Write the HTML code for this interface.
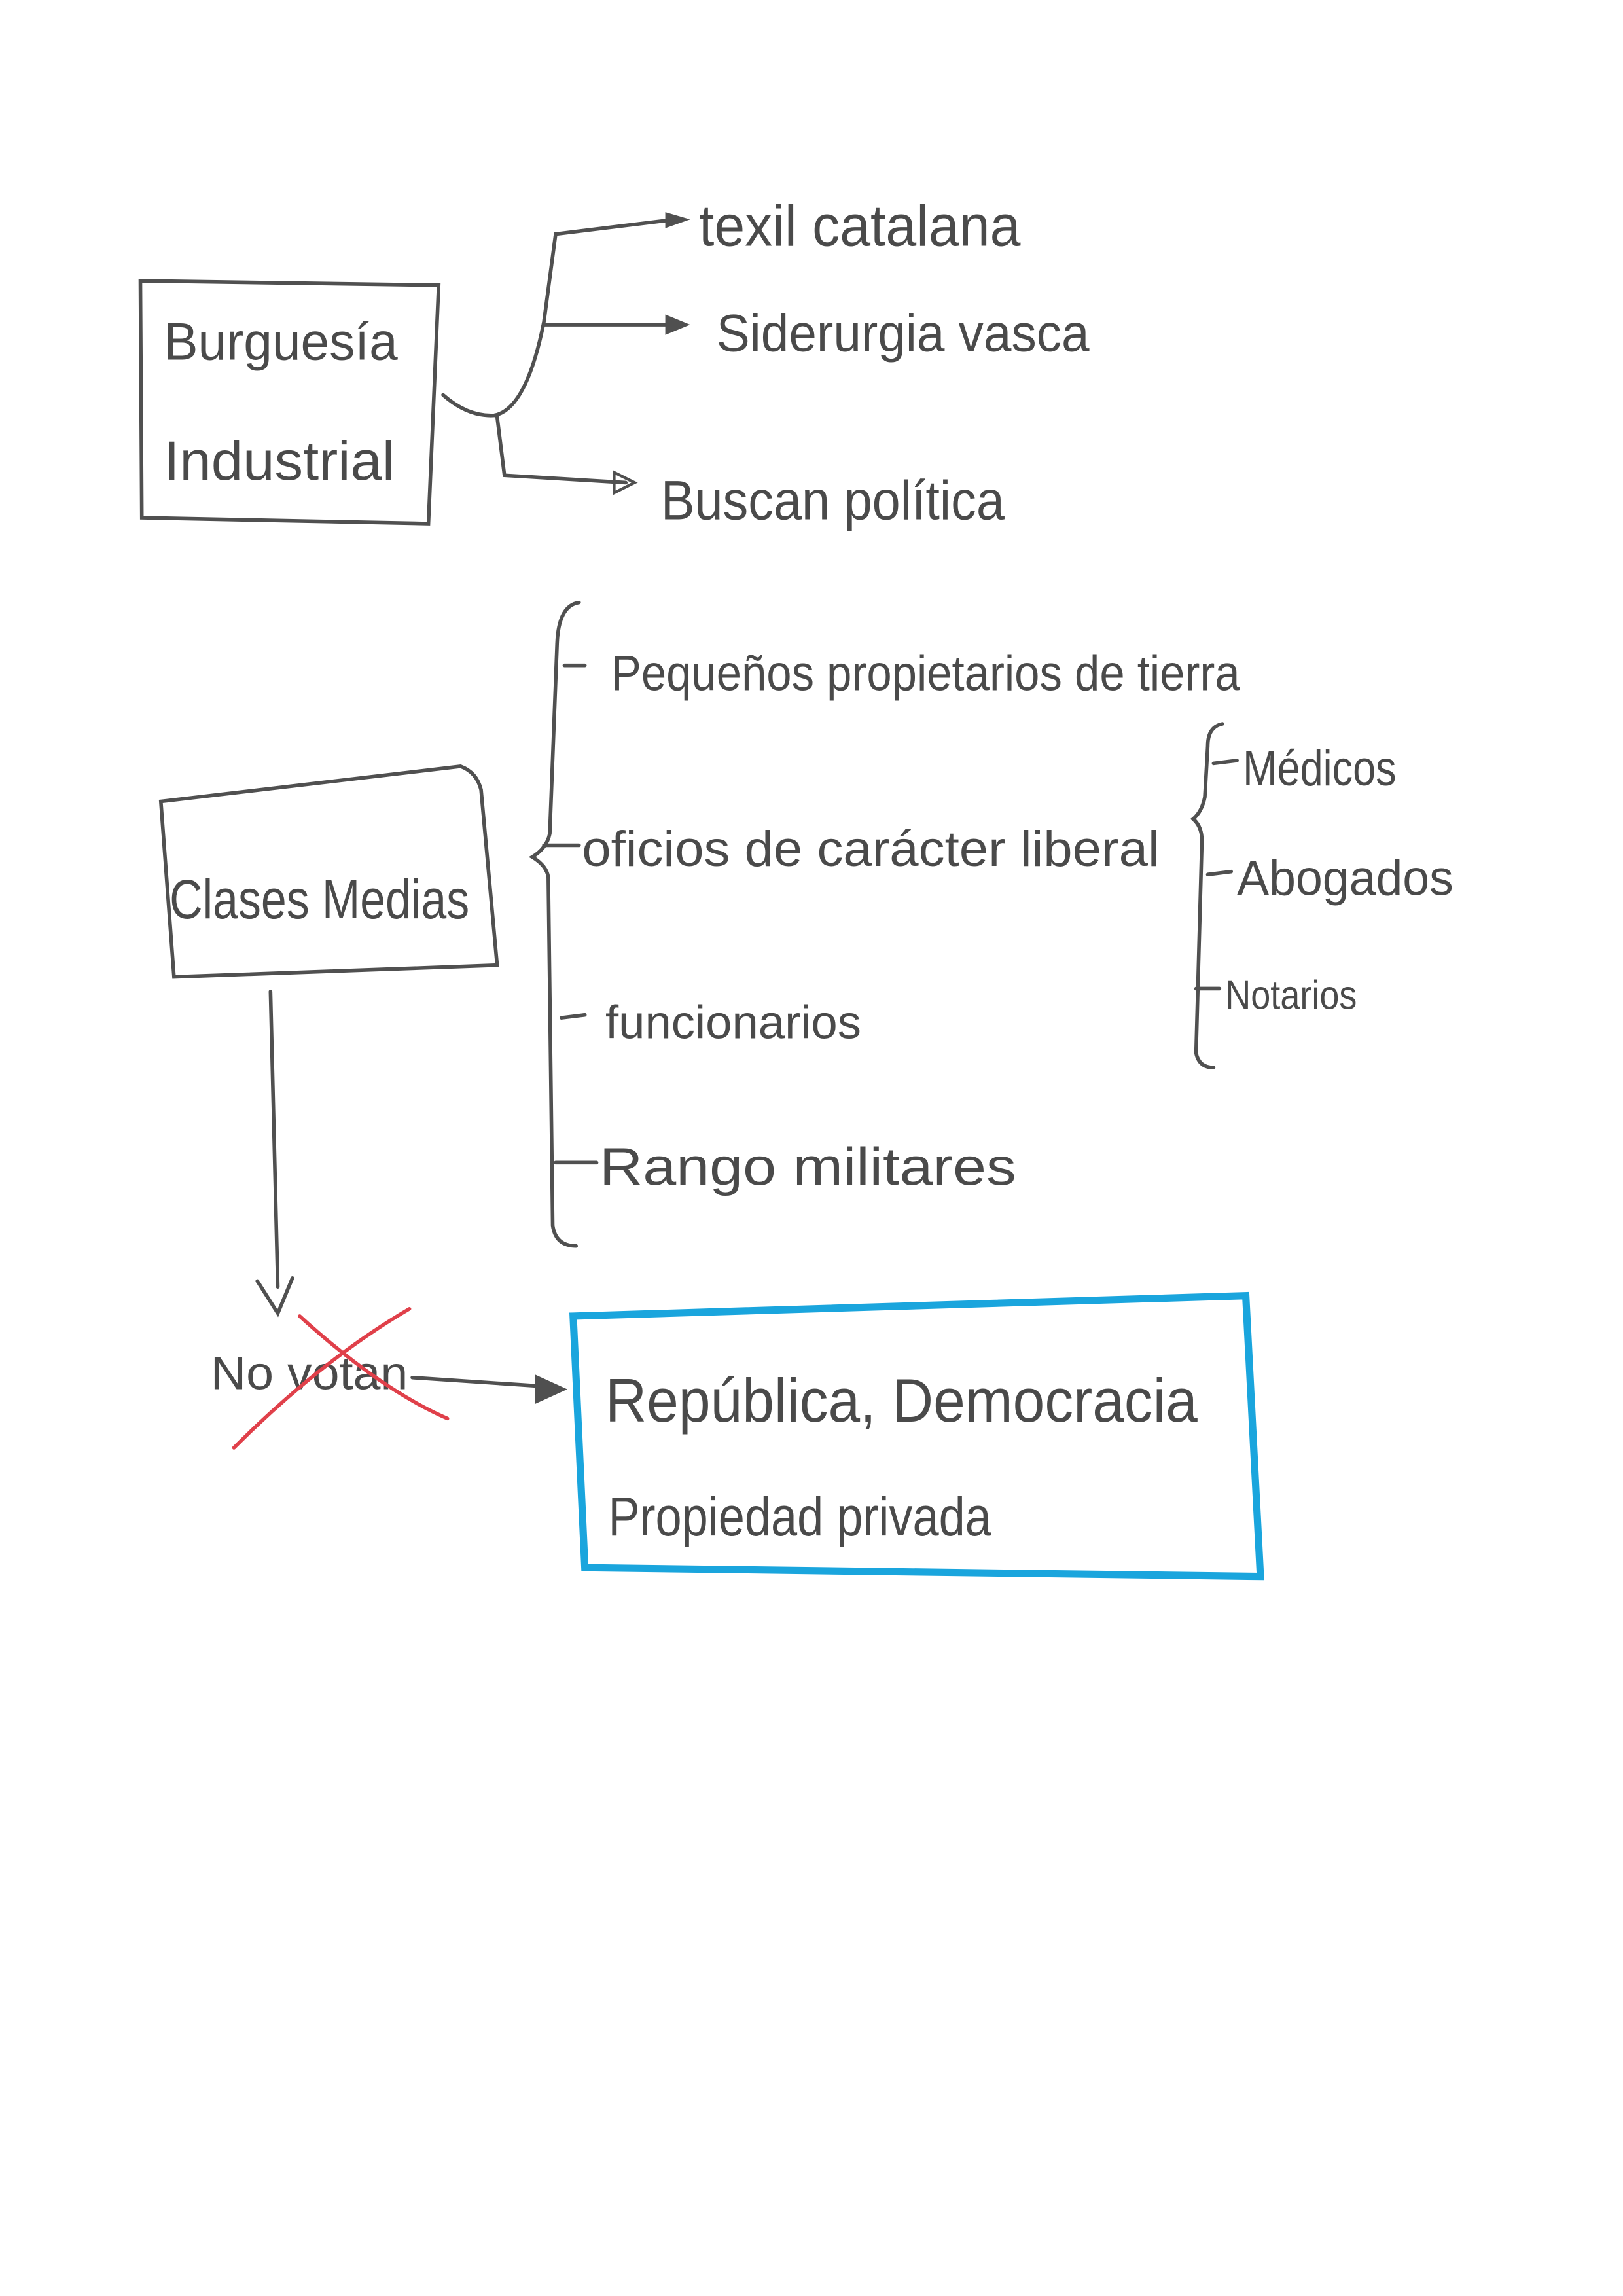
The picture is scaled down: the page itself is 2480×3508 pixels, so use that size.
<!DOCTYPE html>
<html><head><meta charset="utf-8"><style>
html,body{margin:0;padding:0;background:#fff;}
svg{display:block;}
text{font-family:"Liberation Sans",sans-serif;fill:#4a4a4a;}
</style></head><body>
<svg width="2480" height="3508" viewBox="0 0 1110 1570" xmlns="http://www.w3.org/2000/svg">
<rect width="1110" height="1570" fill="#fff"/>
<g fill="none" stroke="#505050" stroke-width="2.5" stroke-linecap="round">
<path d="M96 192 L300 195 L293 358 L97 354 Z"/>
<path d="M303 270 Q320 285 338 284 Q360 280 372 220 L380 160 L462 150"/>
<path d="M372 222 L462 222"/>
<path d="M340 285 L345 325 L428 330"/>
<path d="M396 412 Q382 414 381 440 L376 570 Q374 580 364 586 Q374 592 375 600 L378 838 Q380 852 394 852"/>
<path d="M386 455 L400 455 M372 578 L396 578 M384 696 L400 694 M380 795 L408 795"/>
<path d="M836 495 Q826 497 826 510 L824 545 Q822 555 816 560 Q822 565 822 575 L818 720 Q820 730 830 730"/>
<path d="M830 522 L846 520 M826 598 L842 596 M818 676 L834 676"/>
<path d="M110 548 L315 524 Q326 528 329 540 L340 660 L119 668 Z"/>
<path d="M185 678 L190 880"/>
<path d="M176 876 L190 898 L200 874"/>
<path d="M282 942 L372 948"/>
</g>
<g fill="#505050">
<polygon points="455,145 472,150 455,156"/>
<polygon points="455,215 472,222 455,229"/>
<polygon points="420,323 434,330 420,337" fill="none" stroke="#505050" stroke-width="2"/>
<polygon points="366,940 388,950 366,960"/>
</g>
<text x="112" y="246" font-size="36" textLength="160" lengthAdjust="spacingAndGlyphs">Burguesía</text>
<text x="112" y="328" font-size="38" textLength="158" lengthAdjust="spacingAndGlyphs">Industrial</text>
<text x="478" y="168" font-size="40" textLength="220" lengthAdjust="spacingAndGlyphs">texil catalana</text>
<text x="490" y="240" font-size="36" textLength="255" lengthAdjust="spacingAndGlyphs">Siderurgia vasca</text>
<text x="452" y="355" font-size="38" textLength="235" lengthAdjust="spacingAndGlyphs">Buscan política</text>
<text x="418" y="472" font-size="34" textLength="430" lengthAdjust="spacingAndGlyphs">Pequeños propietarios de tierra</text>
<text x="398" y="592" font-size="34" textLength="395" lengthAdjust="spacingAndGlyphs">oficios de carácter liberal</text>
<text x="414" y="710" font-size="32" textLength="175" lengthAdjust="spacingAndGlyphs">funcionarios</text>
<text x="410" y="810" font-size="36" textLength="285" lengthAdjust="spacingAndGlyphs">Rango militares</text>
<text x="850" y="537" font-size="34" textLength="105" lengthAdjust="spacingAndGlyphs">Médicos</text>
<text x="846" y="612" font-size="34" textLength="148" lengthAdjust="spacingAndGlyphs">Abogados</text>
<text x="838" y="690" font-size="28" textLength="90" lengthAdjust="spacingAndGlyphs">Notarios</text>
<text x="116" y="628" font-size="38" textLength="205" lengthAdjust="spacingAndGlyphs">Clases Medias</text>
<text x="144" y="950" font-size="32" textLength="135" lengthAdjust="spacingAndGlyphs">No votan</text>
<g stroke="#e0404a" stroke-width="2.5" fill="none" stroke-linecap="round">
<path d="M160 990 Q220 930 280 895"/>
<path d="M205 900 Q260 950 306 970"/>
</g>
<path d="M392 900 L852 886 L862 1078 L400 1072 Z" fill="none" stroke="#1aa5dd" stroke-width="5"/>
<text x="414" y="972" font-size="42" textLength="405" lengthAdjust="spacingAndGlyphs">República, Democracia</text>
<text x="416" y="1050" font-size="38" textLength="262" lengthAdjust="spacingAndGlyphs">Propiedad privada</text>
</svg>
</body></html>
